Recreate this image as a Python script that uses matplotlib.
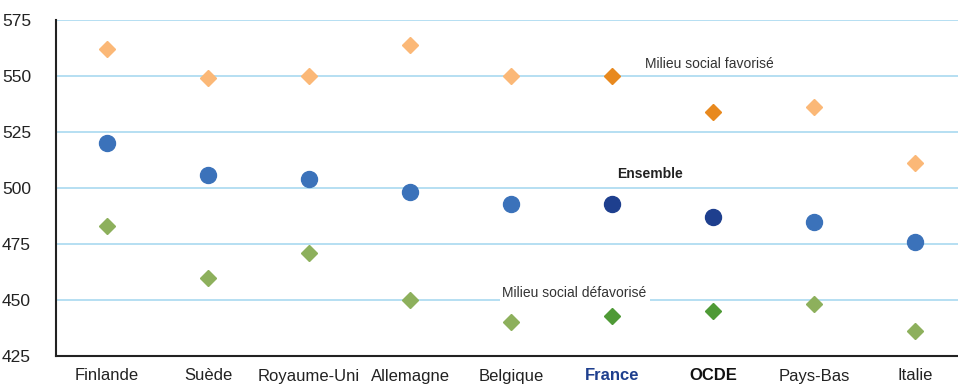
import matplotlib
matplotlib.use("Agg")
import matplotlib.pyplot as plt

pays = ["Finlande", "Suède", "Royaume-Uni", "Allemagne", "Belgique",
        "France", "OCDE", "Pays-Bas", "Italie"]
favorise = [562, 549, 550, 564, 550, 550, 534, 536, 511]
ensemble = [520, 506, 504, 498, 493, 493, 487, 485, 476]
defavorise = [483, 460, 471, 450, 440, 443, 445, 448, 436]
y_ticks = [425, 450, 475, 500, 525, 550, 575]

plt.rcParams["font.family"] = ["Liberation Sans", "DejaVu Sans"]

fav_light, fav_dark = "#FBB877", "#E8891E"
ens_light, ens_dark = "#3B72BA", "#1E3F8E"
def_light, def_dark = "#8DB05C", "#4F9A36"

fig = plt.figure(figsize=(9.58, 3.85), dpi=100)
ax = fig.add_axes([56 / 958, 1 - 356 / 385, 1 - 56 / 958, 336 / 385])

highlight = {"France", "OCDE"}
for i, p in enumerate(pays):
    hl = p in highlight
    ax.plot(i, favorise[i], marker="D", ms=8.5, ls="none",
            color=fav_dark if hl else fav_light, zorder=3)
    ax.plot(i, ensemble[i], marker="o", ms=11.5, ls="none",
            color=ens_dark if hl else ens_light, zorder=3)
    ax.plot(i, defavorise[i], marker="D", ms=8.5, ls="none",
            color=def_dark if hl else def_light, zorder=3)

ax.set_ylim(425, 575)
ax.set_xlim(-0.505, 8.426)
ax.set_yticks(y_ticks)
ax.yaxis.grid(True, color="#A9D9F0", lw=1.2, zorder=0)
ax.set_axisbelow(True)
ax.set_xticks(range(len(pays)))
ax.set_xticklabels(pays)
ax.tick_params(axis="both", length=0, colors="#222222")
ax.tick_params(axis="x", labelsize=12, pad=9)
ax.tick_params(axis="y", labelsize=12.5, pad=39)
for lbl in ax.get_xticklabels():
    if lbl.get_text() == "France":
        lbl.set_color("#1E3F8E")
        lbl.set_fontweight("bold")
    elif lbl.get_text() == "OCDE":
        lbl.set_color("#111111")
        lbl.set_fontweight("bold")
for lbl in ax.get_yticklabels():
    lbl.set_horizontalalignment("left")

for s in ("top", "right"):
    ax.spines[s].set_visible(False)
for s in ("left", "bottom"):
    ax.spines[s].set_color("#222222")
    ax.spines[s].set_linewidth(1.5)

ax.text(5.327, 555.5, "Milieu social favorisé", fontsize=10, color="#333333",
        va="center", ha="left")
ax.text(5.376, 506.3, "Ensemble", fontsize=10, color="#222222",
        fontweight="bold", va="center", ha="center")
ax.text(4.63, 453, "Milieu social défavorisé", fontsize=10, color="#333333",
        va="center", ha="center",
        bbox=dict(facecolor="white", edgecolor="none", pad=2))

fig.savefig("out.png", dpi=100)
